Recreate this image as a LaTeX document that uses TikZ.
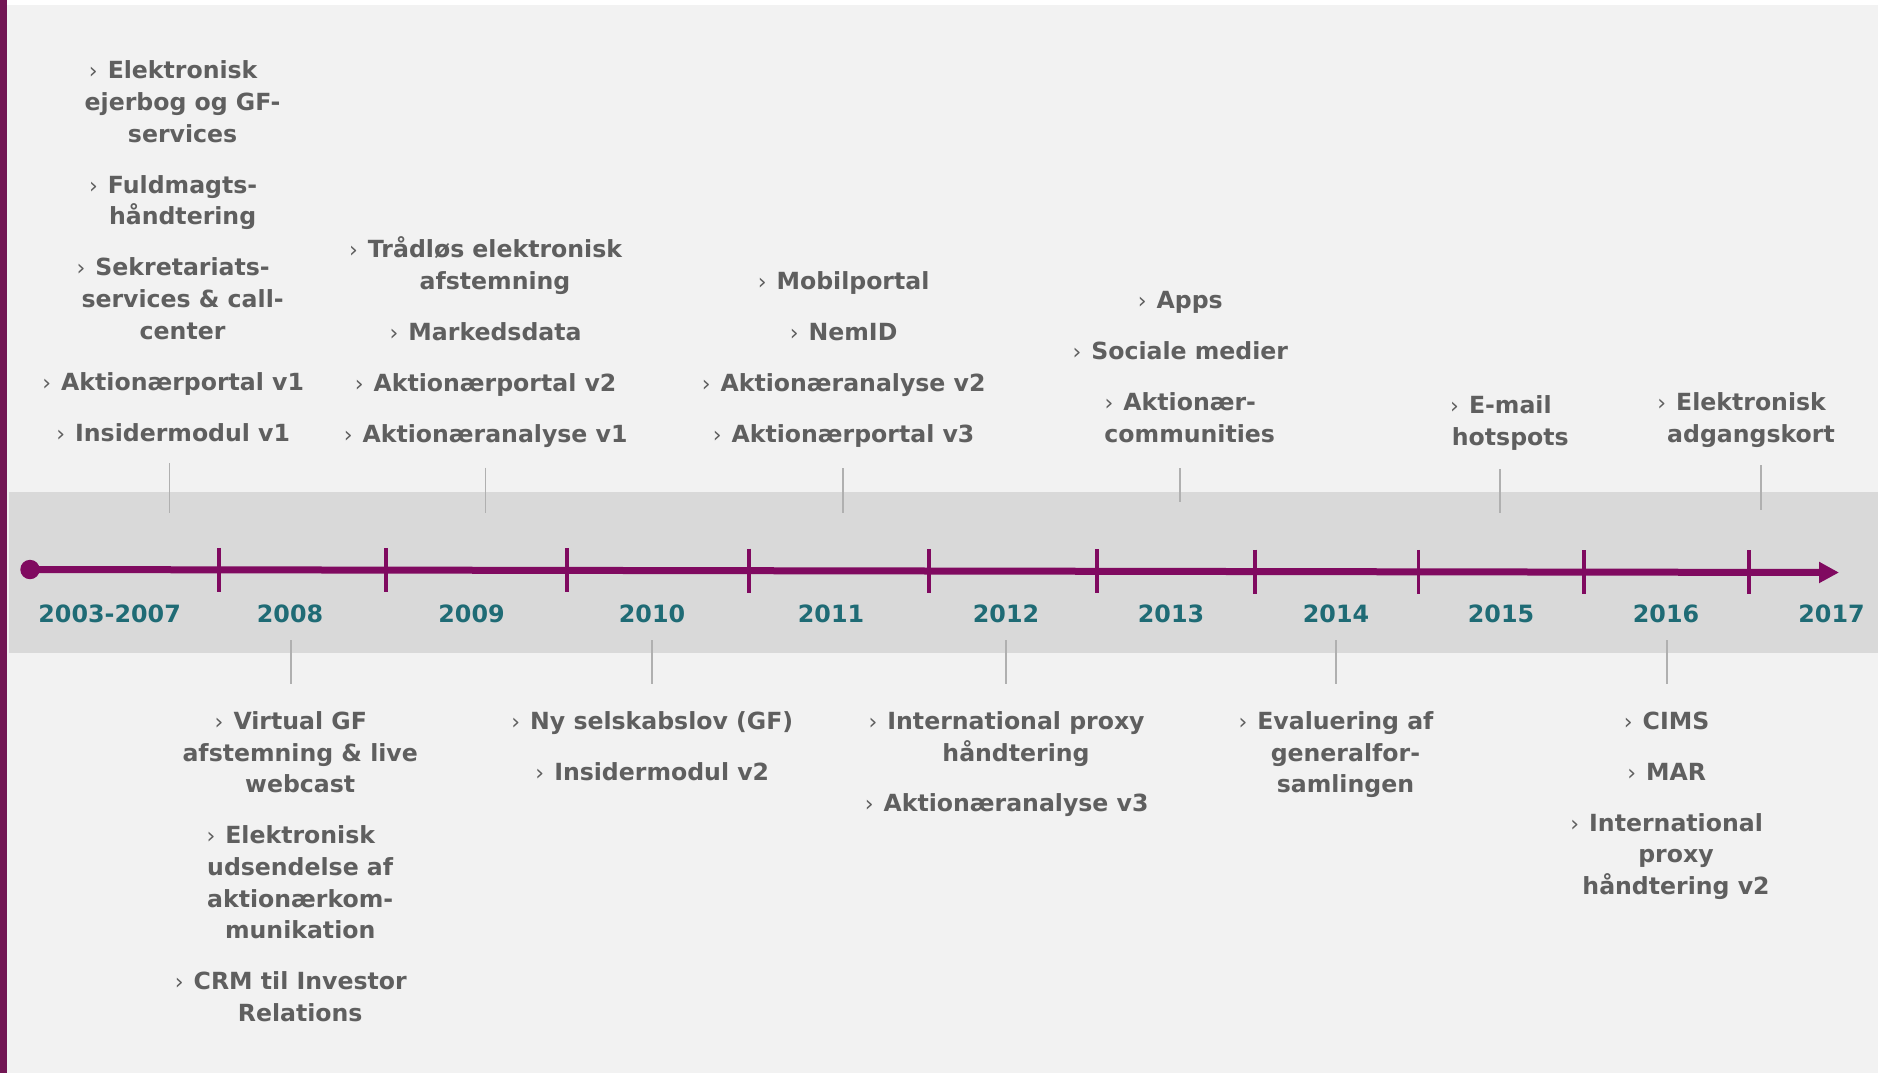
\documentclass[tikz,border=0pt]{standalone}
\usepackage{fontspec}
\setmainfont{DejaVu Sans}
\usetikzlibrary{arrows.meta}
\definecolor{bgc}{HTML}{F2F2F2}
\definecolor{bandc}{HTML}{D9D9D9}
\definecolor{barc}{HTML}{721654}
\definecolor{tlc}{HTML}{800A60}
\definecolor{yearc}{HTML}{1F6B75}
\definecolor{txtc}{HTML}{5F5F5F}
\definecolor{connc}{HTML}{B0B0B0}
\newcommand\bul{\llap{{\mdseries\fontsize{11}{11}\selectfont ›}\hspace{5pt}}}
\newcommand\isep{\\[9.6pt]}
\begin{document}
\begin{tikzpicture}[x=0.5pt,y=-0.5pt,
  conn/.style={draw=connc,line width=0.6pt},
  tline/.style={draw=tlc,line width=3.5pt,-{Triangle[length=10pt,width=10pt]}},
  tick/.style={draw=tlc,line width=1.75pt},
  dotnode/.style={circle,fill=tlc,inner sep=0pt,minimum size=9.7pt},
  year/.style={text=yearc,font=\fontsize{11.9}{14}\selectfont\bfseries,inner sep=0pt,anchor=base},
  item/.style={text=txtc,font=\fontsize{11.8}{15.85}\selectfont\bfseries,inner sep=0pt,anchor=base}]
\useasboundingbox (0,0) rectangle (1878,1073);
\fill[white] (0,0) rectangle (1878,1073);
\fill[bgc] (7.3,5) rectangle (1878,1073);
\fill[barc] (0,0) rectangle (7.3,1073);
\fill[bandc] (9.3,492) rectangle (1878,653);
% timeline
\coordinate (tlstart) at (30,569.5);
\coordinate (tlend) at (1839,572.5);
\draw[tline] (tlstart) -- (tlend);
\node[dotnode] (dot) at (tlstart) {};
\foreach \x [count=\i] in {219,386,567,749,929,1097,1255,1418.5,1584,1749}{
  \pgfmathsetmacro{\yy}{569.5+3*(\x-30)/1809}
  \coordinate (tk\i a) at (\x,\yy-22);
  \coordinate (tk\i b) at (\x,\yy+22);
  \draw[tick] (tk\i a) -- (tk\i b);
}
% years
\node[year] (y0) at (109.6,622.7) {2003-2007};
\node[year] (y8) at (290,622.7) {2008};
\node[year] (y9) at (471.5,622.7) {2009};
\node[year] (y10) at (652,622.7) {2010};
\node[year] (y11) at (831,622.7) {2011};
\node[year] (y12) at (1006,622.7) {2012};
\node[year] (y13) at (1171,622.7) {2013};
\node[year] (y14) at (1336,622.7) {2014};
\node[year] (y15) at (1501,622.7) {2015};
\node[year] (y16) at (1666,622.7) {2016};
\node[year] (y17) at (1831.5,622.7) {2017};
% upper columns
\node[item] (c1) at (182.6,441) {\begin{tabular}[b]{@{}c@{}}\bul Elektronisk\\ejerbog og GF-\\services\isep
\bul Fuldmagts-\\håndtering\isep
\bul Sekretariats-\\services \& call-\\center\isep
\bul Aktionærportal v1\isep
\bul Insidermodul v1\end{tabular}};
\node[item] (c2) at (495,442) {\begin{tabular}[b]{@{}c@{}}\bul Trådløs elektronisk\\afstemning\isep
\bul Markedsdata\isep
\bul Aktionærportal v2\isep
\bul Aktionæranalyse v1\end{tabular}};
\node[item] (c3) at (853,442.3) {\begin{tabular}[b]{@{}c@{}}\bul Mobilportal\isep
\bul NemID\isep
\bul Aktionæranalyse v2\isep
\bul Aktionærportal v3\end{tabular}};
\node[item] (c4) at (1189.7,442.3) {\begin{tabular}[b]{@{}c@{}}\bul Apps\isep
\bul Sociale medier\isep
\bul Aktionær-\\communities\end{tabular}};
\node[item] (c5) at (1510.3,445) {\begin{tabular}[b]{@{}c@{}}\bul E-mail\\hotspots\end{tabular}};
\node[item] (c6) at (1751,442.3) {\begin{tabular}[b]{@{}c@{}}\bul Elektronisk\\adgangskort\end{tabular}};
% lower columns
\node[item] (l1) at (300.2,729.3) {\begin{tabular}[t]{@{}c@{}}\bul Virtual GF\\afstemning \& live\\webcast\isep
\bul Elektronisk\\udsendelse af\\aktionærkom-\\munikation\isep
\bul CRM til Investor\\Relations\end{tabular}};
\node[item] (l2) at (661.7,729.3) {\begin{tabular}[t]{@{}c@{}}\bul Ny selskabslov (GF)\isep
\bul Insidermodul v2\end{tabular}};
\node[item] (l3) at (1016,729.3) {\begin{tabular}[t]{@{}c@{}}\bul International proxy\\håndtering\isep
\bul Aktionæranalyse v3\end{tabular}};
\node[item] (l4) at (1345.4,729.3) {\begin{tabular}[t]{@{}c@{}}\bul Evaluering af\\generalfor-\\samlingen\end{tabular}};
\node[item] (l5) at (1676,729.3) {\begin{tabular}[t]{@{}c@{}}\bul CIMS\isep
\bul MAR\isep
\bul International\\proxy\\håndtering v2\end{tabular}};
% connectors
\coordinate (u1a) at (169.6,463);  \coordinate (u1b) at (169.6,513);
\coordinate (u2a) at (485.5,467.7);\coordinate (u2b) at (485.5,513);
\coordinate (u3a) at (843,468);    \coordinate (u3b) at (843,513);
\coordinate (u4a) at (1180,468);   \coordinate (u4b) at (1180,501.7);
\coordinate (u5a) at (1500,469);   \coordinate (u5b) at (1500,513);
\coordinate (u6a) at (1761,465);   \coordinate (u6b) at (1761,510);
\foreach \i in {1,...,6}{\draw[conn] (u\i a) -- (u\i b);}
\coordinate (d1a) at (291,640);  \coordinate (d1b) at (291,684.3);
\coordinate (d2a) at (652,640);  \coordinate (d2b) at (652,684.3);
\coordinate (d3a) at (1006,640); \coordinate (d3b) at (1006,684.3);
\coordinate (d4a) at (1336,640); \coordinate (d4b) at (1336,684.3);
\coordinate (d5a) at (1667,640); \coordinate (d5b) at (1667,684.3);
\foreach \i in {1,...,5}{\draw[conn] (d\i a) -- (d\i b);}
\end{tikzpicture}
\end{document}
